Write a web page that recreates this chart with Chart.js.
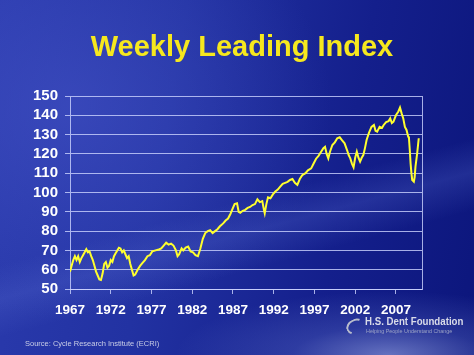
<!DOCTYPE html>
<html>
<head>
<meta charset="utf-8">
<script src="https://cdn.jsdelivr.net/npm/chart.js@4/dist/chart.umd.min.js"></script>
<style>
  html, body { margin:0; padding:0; }
  body {
    width:474px; height:355px; overflow:hidden; position:relative;
    background:
      radial-gradient(ellipse 45% 18% at 82% 100%, rgba(170,185,240,0.55) 0%, rgba(120,140,220,0.25) 45%, rgba(0,0,0,0) 100%),
      linear-gradient(165deg, rgba(0,0,0,0) 55%, rgba(90,110,210,0.25) 62%, rgba(0,0,0,0) 70%),
      radial-gradient(ellipse 55% 60% at 15% 30%, rgba(70,85,200,0.55) 0%, rgba(0,0,0,0) 100%),
      linear-gradient(100deg, #2b3bae 0%, #2232a2 35%, #141f8c 70%, #0c167c 100%);
    font-family: "Liberation Sans", Arial, sans-serif;
  }
  #wrap { position:absolute; left:0; top:0; width:474px; height:355px; }
  #title {
    position:absolute; left:5px; top:32px; width:474px; text-align:center;
    font-weight:bold; font-size:29px; line-height:29px; color:#f6e81e;
  }
  #source {
    position:absolute; left:25px; top:340px; font-size:7.5px; line-height:8px; color:#c9cde6;
  }
  #logo1 {
    position:absolute; left:365px; top:316px; font-size:11px; line-height:11px; font-weight:bold; color:#d9dbe8;
    transform: scaleX(0.88); transform-origin: left top; white-space:nowrap;
  }
  #logo2 {
    position:absolute; left:366px; top:328px; font-size:5.4px; line-height:6px; color:#9ca3c6; white-space:nowrap;
  }
  #swirl {
    position:absolute; left:346px; top:319px; width:15px; height:11px;
    border:2px solid #b8bccc; border-right-color:transparent; border-bottom-color:transparent;
    border-radius:50%; transform:rotate(-25deg);
  }
</style>
</head>
<body>
<div id="wrap"><canvas id="c" width="474" height="355"></canvas></div>
<div id="title">Weekly Leading Index</div>
<div id="source">Source: Cycle Research Institute (ECRI)</div>
<div id="swirl"></div>
<div id="logo1">H.S. Dent Foundation</div>
<div id="logo2">Helping People Understand Change</div>
<script>
const years = [
1967.0,1967.2,1967.4,1967.6,1967.8,1968.0,1968.2,1968.4,1968.6,1968.8,
1969.0,1969.2,1969.4,1969.6,1969.8,1970.0,1970.2,1970.4,1970.6,1970.8,
1971.0,1971.2,1971.4,1971.6,1971.8,1972.0,1972.2,1972.4,1972.6,1972.8,
1973.0,1973.2,1973.4,1973.6,1973.8,1974.0,1974.2,1974.4,1974.6,1974.8,
1975.0,1975.3,1975.6,1975.9,1976.2,1976.5,1976.8,1977.1,1977.5,1977.9,
1978.2,1978.5,1978.8,1979.1,1979.4,1979.7,1980.0,1980.2,1980.4,1980.7,
1980.9,1981.2,1981.5,1981.8,1982.1,1982.4,1982.7,1983.0,1983.3,1983.6,
1983.9,1984.2,1984.5,1984.8,1985.1,1985.4,1985.8,1986.1,1986.4,1986.7,
1987.0,1987.2,1987.5,1987.7,1987.9,1988.2,1988.5,1988.8,1989.1,1989.4,
1989.7,1990.0,1990.3,1990.6,1990.8,1990.9,1991.1,1991.3,1991.6,1991.9,
1992.2,1992.5,1992.8,1993.1,1993.4,1993.7,1994.0,1994.3,1994.6,1994.9,
1995.2,1995.5,1995.9,1996.2,1996.6,1996.9,1997.2,1997.5,1997.8,1998.1,
1998.3,1998.5,1998.7,1998.9,1999.2,1999.5,1999.8,2000.1,2000.4,2000.7,
2001.0,2001.2,2001.4,2001.6,2001.8,2002.0,2002.2,2002.4,2002.6,2002.8,
2003.0,2003.2,2003.4,2003.7,2004.0,2004.3,2004.5,2004.7,2005.0,2005.3,
2005.5,2005.8,2006.1,2006.3,2006.5,2006.7,2007.0,2007.3,2007.5,2007.7,
2007.9,2008.1,2008.3,2008.5,2008.6,2008.7,2008.8,2008.9,2009.0,2009.2,
2009.3,2009.4,2009.6,2009.8
];
const indexValues = [
59,62,65,67,65,67,64,66,67.5,69,
70.6,69,69.5,67,65,62,59,57,55,54.7,
58,63,64,61,62,65,64,67,68.5,70,
71.4,71,69,70,68,66,67,63,60,57,
57.5,60,62,63.5,65,67,67.5,69.5,70,70.5,
71,72.5,74,73,73.5,72.5,70,67,68,71,
70,71.5,72,69.5,69,67.5,67,71,76,79,
80,80.5,79,80,81,82.5,84,85.5,86.5,89,
92,94,94.4,90,89.5,90.5,91,92,92.5,93.5,
94,96.5,95,95.5,91,89.2,94,97.5,97,99,
100.5,101.5,103,104.5,105,105.5,106.5,107,105,104,
107,109,110,111.5,112.5,115,117.5,119,121,123,
123.7,120,117.7,121,124.6,126,128.1,128.6,127,125.5,
122,119.4,117.7,115,113.1,118,121.2,118,116,118,
119.4,123,127.2,131,134,135,132,131.5,134,133.5,
135,136.5,137,138.4,136,136.7,140,142,144,141,
138.4,134,132.4,129,128.1,122,115.1,110,106.5,105.6,
108,113.4,120,128.1
];
const yearTicks = [1967,1972,1977,1982,1987,1992,1997,2002,2007];
const xMin = 1967, xMax = 2010.2;
const yMin = 50, yMax = 150, yStep = 10;

const gridColor = 'rgba(205,212,255,0.8)';

const borderPlugin = {
  id: 'frame',
  afterDraw(chart) {
    const a = chart.chartArea, ctx = chart.ctx;
    ctx.save();
    ctx.strokeStyle = gridColor;
    ctx.lineWidth = 1;
    ctx.beginPath();
    ctx.moveTo(Math.round(a.right) + 0.5, a.top);
    ctx.lineTo(Math.round(a.right) + 0.5, a.bottom);
    ctx.stroke();
    ctx.restore();
  }
};

new Chart(document.getElementById('c'), {
  type: 'line',
  data: {
    datasets: [{
      data: years.map((y, i) => ({ x: y, y: indexValues[i] })),
      borderColor: '#ffff2e',
      borderWidth: 2,
      pointRadius: 0,
      tension: 0,
      fill: false
    }]
  },
  options: {
    responsive: false,
    animation: false,
    events: [],
    layout: { padding: { left: 0, right: 52, top: 96, bottom: 36 } },
    plugins: { legend: { display: false }, tooltip: { enabled: false }, title: { display: false } },
    scales: {
      x: {
        type: 'linear', min: xMin, max: xMax,
        afterBuildTicks: axis => { axis.ticks = yearTicks.map(v => ({ value: v })); },
        afterFit: s => { s.height = 30; },
        grid: { display: true, drawOnChartArea: false, drawTicks: true, tickLength: 5, color: gridColor, lineWidth: 1 },
        border: { display: true, color: gridColor, width: 1 },
        ticks: {
          color: '#ffffff', padding: 8, maxRotation: 0, autoSkip: false,
          font: { family: '"Liberation Sans", Arial, sans-serif', size: 13.5, weight: 'bold' },
          callback: v => String(v)
        }
      },
      y: {
        min: yMin, max: yMax,
        afterFit: s => { s.width = 70; },
        grid: { display: true, drawOnChartArea: true, drawTicks: true, tickLength: 5, color: gridColor, lineWidth: 1 },
        border: { display: true, color: gridColor, width: 1 },
        ticks: {
          stepSize: yStep, autoSkip: false, color: '#ffffff', padding: 7,
          font: { family: '"Liberation Sans", Arial, sans-serif', size: 15, weight: 'bold' }
        }
      }
    }
  },
  plugins: [borderPlugin]
});
</script>
</body>
</html>
